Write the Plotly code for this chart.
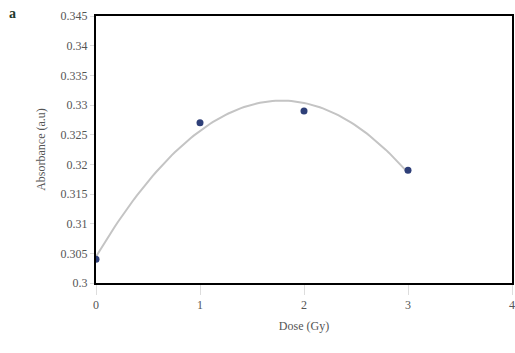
import numpy as np
import plotly.graph_objects as go

dose = [0, 1, 2, 3]
absorbance = [0.304, 0.327, 0.329, 0.319]
x_ticks = [0, 1, 2, 3, 4]
y_ticks = [0.3, 0.305, 0.31, 0.315, 0.32, 0.325, 0.33, 0.335, 0.34, 0.345]

# second-order polynomial trendline from the data
coef = np.polyfit(dose, absorbance, 2)
xs = np.linspace(min(dose), max(dose), 100)
ys = np.polyval(coef, xs)

font = dict(family="Liberation Serif", size=12, color="#555555")

fig = go.Figure()
fig.add_trace(go.Scatter(x=xs, y=ys, mode="lines",
                         line=dict(color="#c4c4c4", width=2), hoverinfo="skip"))
fig.add_trace(go.Scatter(x=dose, y=absorbance, mode="markers",
                         marker=dict(color="#2e3f78", size=7)))

fig.update_layout(
    width=515, height=353,
    margin=dict(l=96, r=3, t=16, b=70, autoexpand=False),
    plot_bgcolor="white", paper_bgcolor="white",
    showlegend=False, font=font,
    xaxis=dict(range=[0, 4], tickvals=x_ticks, ticktext=[str(v) for v in x_ticks],
               showgrid=False, zeroline=False, showline=True, linecolor="black",
               linewidth=2, mirror=True, ticks="outside", ticklen=10,
               tickcolor="#dddddd", tickwidth=1, automargin=False,
               title=dict(text="Dose (Gy)", font=font, standoff=10)),
    yaxis=dict(range=[0.3, 0.345], tickvals=y_ticks,
               ticktext=[f"{v:g}" for v in y_ticks],
               showgrid=False, zeroline=False, showline=True, linecolor="black",
               linewidth=2, mirror=True, ticks="outside", ticklen=4,
               tickcolor="#dddddd", automargin=False,
               title=dict(text="Absorbance (a.u)", font=font, standoff=12)),
)
fig.add_annotation(text="<b>a</b>", x=-0.215, y=1.01, xref="paper", yref="paper",
                   xanchor="left", yanchor="middle", showarrow=False,
                   font=dict(family="Liberation Serif", size=14, color="#1e3a2a"))

# drop the default page margin so the figure fills the window
fig.write_html("out.html", config={"displayModeBar": False},
               post_script="document.body.style.margin='0';document.body.style.overflow='hidden';")
